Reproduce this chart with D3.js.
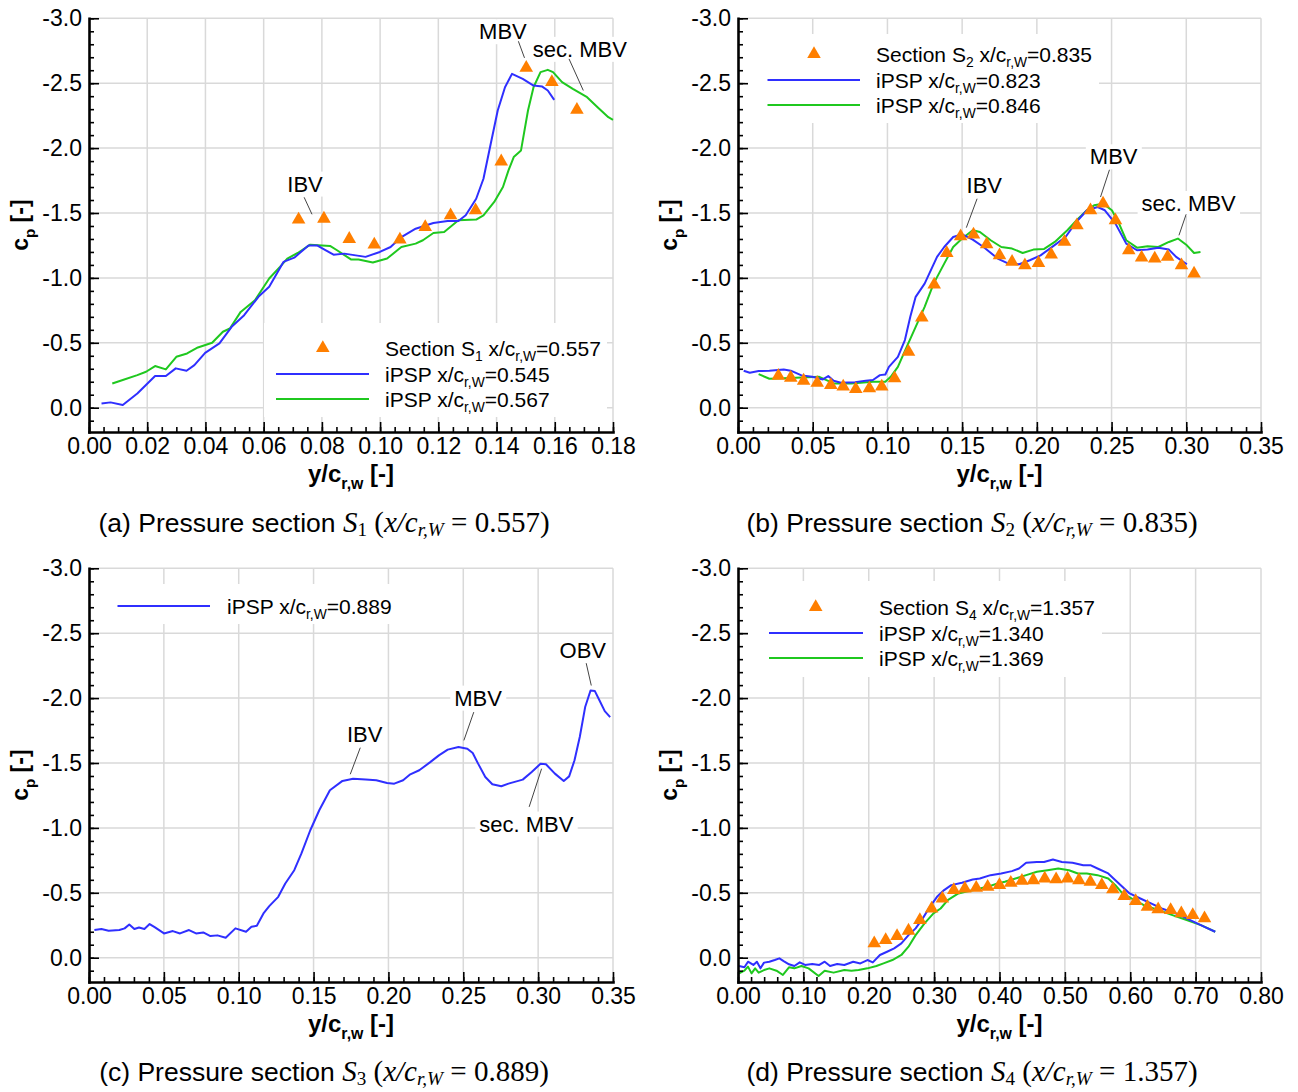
<!DOCTYPE html>
<html>
<head>
<meta charset="utf-8">
<script src="https://cdn.jsdelivr.net/npm/d3@7"></script>
<style>
  html, body { margin: 0; padding: 0; background: #fff; }
  svg { display: block; }
</style>
</head>
<body>
<svg id="fig" width="1298" height="1092"></svg>
<script>
// ---- data: [y/c_rw, cp] pairs ----

// (a) section S1
const s1Exp = [[0.0720,-1.449],[0.0807,-1.456],[0.0894,-1.300],[0.0980,-1.256],[0.1068,-1.295],[0.1155,-1.392],
  [0.1242,-1.482],[0.1328,-1.521],[0.1416,-1.897],[0.1502,-2.618],[0.1590,-2.508],[0.1676,-2.295]];
const s1Psp545 = [[0.0043,-0.033],[0.0074,-0.041],[0.0116,-0.021],[0.0166,-0.110],[0.0227,-0.244],[0.0264,-0.244],
  [0.0298,-0.303],[0.0335,-0.285],[0.0362,-0.328],[0.0399,-0.423],[0.0448,-0.495],[0.0490,-0.623],[0.0533,-0.713],
  [0.0582,-0.854],[0.0619,-0.931],[0.0668,-1.123],[0.0705,-1.156],[0.0754,-1.249],[0.0785,-1.249],[0.0809,-1.218],
  [0.0840,-1.179],[0.0877,-1.187],[0.0950,-1.162],[0.0999,-1.200],[0.1036,-1.238],[0.1073,-1.315],[0.1122,-1.379],
  [0.1183,-1.423],[0.1232,-1.438],[0.1269,-1.438],[0.1294,-1.482],[0.1330,-1.610],[0.1355,-1.764],[0.1380,-2.033],
  [0.1404,-2.290],[0.1429,-2.469],[0.1453,-2.572],[0.1490,-2.533],[0.1527,-2.482],[0.1557,-2.474],[0.1576,-2.444],
  [0.1598,-2.372]];
const s1Psp567 = [[0.0080,-0.187],[0.0116,-0.213],[0.0166,-0.251],[0.0196,-0.277],[0.0227,-0.321],[0.0264,-0.295],
  [0.0300,-0.392],[0.0337,-0.418],[0.0374,-0.464],[0.0423,-0.500],[0.0460,-0.585],[0.0484,-0.610],[0.0521,-0.738],
  [0.0570,-0.828],[0.0619,-0.995],[0.0656,-1.085],[0.0681,-1.149],[0.0717,-1.192],[0.0760,-1.256],[0.0828,-1.246],
  [0.0852,-1.213],[0.0901,-1.141],[0.0926,-1.141],[0.0975,-1.118],[0.1024,-1.149],[0.1073,-1.238],[0.1122,-1.264],
  [0.1147,-1.290],[0.1183,-1.346],[0.1220,-1.354],[0.1269,-1.444],[0.1330,-1.449],[0.1355,-1.482],[0.1392,-1.585],
  [0.1422,-1.700],[0.1441,-1.828],[0.1459,-1.931],[0.1484,-1.982],[0.1508,-2.290],[0.1527,-2.469],[0.1551,-2.585],
  [0.1576,-2.603],[0.1594,-2.585],[0.1625,-2.508],[0.1662,-2.456],[0.1711,-2.392],[0.1747,-2.315],[0.1784,-2.238],
  [0.1800,-2.218]];

// (b) section S2
const s2Exp = [[0.0270,-0.246],[0.0353,-0.231],[0.0439,-0.208],[0.0530,-0.192],[0.0621,-0.174],[0.0704,-0.162],
  [0.0788,-0.144],[0.0879,-0.149],[0.0962,-0.162],[0.1048,-0.226],[0.1141,-0.431],[0.1230,-0.695],[0.1313,-0.949],
  [0.1397,-1.192],[0.1490,-1.321],[0.1576,-1.333],[0.1664,-1.259],[0.1750,-1.174],[0.1834,-1.123],[0.1920,-1.097],
  [0.2011,-1.115],[0.2096,-1.179],[0.2185,-1.277],[0.2268,-1.405],[0.2359,-1.521],[0.2443,-1.572],[0.2526,-1.444],
  [0.2615,-1.213],[0.2701,-1.156],[0.2789,-1.149],[0.2875,-1.162],[0.2968,-1.097],[0.3052,-1.033]];
const s2Psp823 = [[0.0038,-0.285],[0.0079,-0.269],[0.0138,-0.282],[0.0210,-0.285],[0.0306,-0.295],[0.0353,-0.285],
  [0.0425,-0.249],[0.0497,-0.238],[0.0568,-0.218],[0.0604,-0.244],[0.0640,-0.208],[0.0688,-0.192],[0.0783,-0.197],
  [0.0855,-0.208],[0.0903,-0.213],[0.0950,-0.251],[0.0986,-0.256],[0.1010,-0.315],[0.1070,-0.392],[0.1117,-0.521],
  [0.1153,-0.700],[0.1189,-0.854],[0.1249,-0.956],[0.1332,-1.162],[0.1380,-1.238],[0.1440,-1.315],[0.1500,-1.336],
  [0.1571,-1.295],[0.1643,-1.238],[0.1738,-1.149],[0.1810,-1.110],[0.1882,-1.105],[0.1953,-1.136],[0.2025,-1.174],
  [0.2096,-1.233],[0.2192,-1.315],[0.2264,-1.431],[0.2335,-1.521],[0.2407,-1.546],[0.2455,-1.521],[0.2526,-1.418],
  [0.2598,-1.264],[0.2670,-1.213],[0.2741,-1.218],[0.2813,-1.233],[0.2884,-1.218],[0.2932,-1.162],[0.3004,-1.105]];
const s2Psp846 = [[0.0138,-0.259],[0.0210,-0.223],[0.0306,-0.226],[0.0425,-0.233],[0.0544,-0.238],[0.0592,-0.213],
  [0.0640,-0.187],[0.0759,-0.187],[0.0903,-0.200],[0.0986,-0.200],[0.1022,-0.238],[0.1070,-0.315],[0.1129,-0.469],
  [0.1189,-0.623],[0.1249,-0.777],[0.1309,-0.956],[0.1380,-1.110],[0.1440,-1.238],[0.1500,-1.303],[0.1571,-1.367],
  [0.1619,-1.354],[0.1691,-1.290],[0.1762,-1.238],[0.1834,-1.226],[0.1905,-1.192],[0.1977,-1.218],[0.2049,-1.223],
  [0.2120,-1.277],[0.2204,-1.367],[0.2276,-1.456],[0.2335,-1.521],[0.2383,-1.559],[0.2443,-1.572],[0.2502,-1.521],
  [0.2550,-1.418],[0.2598,-1.290],[0.2670,-1.233],[0.2741,-1.244],[0.2813,-1.238],[0.2884,-1.277],[0.2944,-1.303],
  [0.3004,-1.251],[0.3052,-1.192],[0.3095,-1.200]];

// (c) section S3
const s3Psp889 = [[0.0036,-0.213],[0.0083,-0.221],[0.0131,-0.208],[0.0203,-0.213],[0.0238,-0.226],[0.0269,-0.256],
  [0.0303,-0.221],[0.0334,-0.233],[0.0370,-0.221],[0.0405,-0.259],[0.0441,-0.233],[0.0501,-0.187],[0.0560,-0.205],
  [0.0608,-0.187],[0.0668,-0.213],[0.0715,-0.187],[0.0763,-0.195],[0.0811,-0.167],[0.0858,-0.172],[0.0913,-0.154],
  [0.0978,-0.226],[0.1049,-0.200],[0.1085,-0.238],[0.1121,-0.246],[0.1168,-0.346],[0.1204,-0.397],[0.1264,-0.469],
  [0.1311,-0.572],[0.1371,-0.674],[0.1419,-0.803],[0.1478,-0.982],[0.1538,-1.136],[0.1609,-1.290],[0.1693,-1.362],
  [0.1764,-1.379],[0.1848,-1.372],[0.1919,-1.367],[0.1991,-1.346],[0.2039,-1.341],[0.2098,-1.367],[0.2146,-1.413],
  [0.2206,-1.444],[0.2277,-1.505],[0.2337,-1.559],[0.2396,-1.603],[0.2468,-1.623],[0.2527,-1.610],[0.2563,-1.577],
  [0.2599,-1.495],[0.2647,-1.392],[0.2694,-1.336],[0.2754,-1.321],[0.2802,-1.341],[0.2897,-1.372],[0.2957,-1.431],
  [0.3016,-1.495],[0.3052,-1.490],[0.3112,-1.418],[0.3171,-1.362],[0.3207,-1.397],[0.3243,-1.521],[0.3278,-1.700],
  [0.3314,-1.931],[0.3350,-2.059],[0.3379,-2.054],[0.3410,-1.982],[0.3445,-1.900],[0.3481,-1.854]];

// (d) section S4
const s4Exp = [[0.2084,-0.110],[0.2259,-0.136],[0.2433,-0.167],[0.2608,-0.208],[0.2782,-0.290],[0.2962,-0.379],
  [0.3126,-0.456],[0.3301,-0.521],[0.3470,-0.533],[0.3644,-0.538],[0.3819,-0.546],[0.3999,-0.559],[0.4173,-0.577],
  [0.4343,-0.592],[0.4517,-0.597],[0.4692,-0.610],[0.4866,-0.603],[0.5041,-0.610],[0.5215,-0.597],[0.5390,-0.585],
  [0.5565,-0.559],[0.5734,-0.526],[0.5908,-0.474],[0.6083,-0.436],[0.6263,-0.392],[0.6427,-0.372],[0.6618,-0.367],
  [0.6781,-0.341],[0.6956,-0.328],[0.7136,-0.303]];
const s4Psp1340 = [[0.0016,0.064],[0.0098,0.074],[0.0153,0.031],[0.0235,0.056],[0.0289,0.031],[0.0344,0.082],
  [0.0398,0.038],[0.0480,0.031],[0.0562,0.018],[0.0633,0.005],[0.0698,0.026],[0.0780,0.051],[0.0862,0.064],
  [0.0944,0.036],[0.1026,0.056],[0.1135,0.049],[0.1244,0.056],[0.1326,0.031],[0.1408,0.064],[0.1517,0.049],
  [0.1626,0.056],[0.1762,0.031],[0.1871,0.044],[0.1980,0.018],[0.2062,0.036],[0.2171,-0.021],[0.2280,-0.046],
  [0.2389,-0.072],[0.2499,-0.110],[0.2608,-0.174],[0.2717,-0.226],[0.2826,-0.303],[0.2935,-0.392],[0.3044,-0.469],
  [0.3153,-0.521],[0.3262,-0.559],[0.3426,-0.577],[0.3590,-0.603],[0.3699,-0.610],[0.3863,-0.636],[0.4026,-0.649],
  [0.4190,-0.667],[0.4299,-0.687],[0.4408,-0.731],[0.4572,-0.738],[0.4681,-0.738],[0.4817,-0.756],[0.4954,-0.738],
  [0.5117,-0.731],[0.5281,-0.713],[0.5390,-0.713],[0.5499,-0.687],[0.5663,-0.649],[0.5826,-0.572],[0.5990,-0.495],
  [0.6154,-0.456],[0.6317,-0.418],[0.6481,-0.379],[0.6699,-0.341],[0.6918,-0.290],[0.7136,-0.238],[0.7300,-0.200]];
const s4Psp1369 = [[0.0016,0.121],[0.0098,0.100],[0.0153,0.069],[0.0207,0.121],[0.0262,0.082],[0.0316,0.115],
  [0.0398,0.095],[0.0480,0.082],[0.0589,0.100],[0.0687,0.133],[0.0780,0.074],[0.0862,0.082],[0.0971,0.064],
  [0.1080,0.082],[0.1233,0.141],[0.1326,0.100],[0.1462,0.115],[0.1626,0.095],[0.1735,0.100],[0.1844,0.095],
  [0.1980,0.082],[0.2117,0.064],[0.2226,0.044],[0.2362,0.018],[0.2499,-0.021],[0.2608,-0.085],[0.2717,-0.174],
  [0.2853,-0.264],[0.2990,-0.341],[0.3099,-0.379],[0.3208,-0.444],[0.3371,-0.495],[0.3481,-0.508],[0.3644,-0.526],
  [0.3808,-0.546],[0.3972,-0.572],[0.4081,-0.585],[0.4244,-0.610],[0.4408,-0.636],[0.4572,-0.662],[0.4735,-0.674],
  [0.4899,-0.687],[0.5063,-0.674],[0.5199,-0.649],[0.5335,-0.649],[0.5499,-0.636],[0.5663,-0.610],[0.5772,-0.559],
  [0.5881,-0.495],[0.6045,-0.449],[0.6208,-0.405],[0.6427,-0.367],[0.6645,-0.328],[0.6863,-0.290],[0.7081,-0.251],
  [0.7300,-0.200]];

// axis ticks
const yMajor = [-3.0, -2.5, -2.0, -1.5, -1.0, -0.5, 0.0];
const xMajorA = [0, 0.02, 0.04, 0.06, 0.08, 0.10, 0.12, 0.14, 0.16, 0.18];
const xMajorBC = [0, 0.05, 0.10, 0.15, 0.20, 0.25, 0.30, 0.35];
const xMajorD = [0, 0.1, 0.2, 0.3, 0.4, 0.5, 0.6, 0.7, 0.8];

// annotation labels: text, text position, leader start, leader end
const notesA = [
  { t: "IBV", at: [0.0742, -1.726], from: [0.0739, -1.621], to: [0.0766, -1.49] },
  { t: "MBV", at: [0.1422, -2.90], from: [0.1475, -2.823], to: [0.1496, -2.695] },
  { t: "sec. MBV", at: [0.1686, -2.764], from: [0.1649, -2.687], to: [0.1698, -2.444] }
];
const notesB = [
  { t: "IBV", at: [0.1648, -1.713], from: [0.1600, -1.610], to: [0.1528, -1.387] },
  { t: "MBV", at: [0.2514, -1.936], from: [0.2486, -1.833], to: [0.2426, -1.623] },
  { t: "sec. MBV", at: [0.3016, -1.577], from: [0.2999, -1.490], to: [0.2951, -1.328] }
];
const notesC = [
  { t: "IBV", at: [0.1841, -1.721], from: [0.1812, -1.618], to: [0.1745, -1.413] },
  { t: "MBV", at: [0.2599, -2.003], from: [0.2570, -1.892], to: [0.2504, -1.674] },
  { t: "sec. MBV", at: [0.2921, -1.033], from: [0.2940, -1.162], to: [0.3023, -1.456] },
  { t: "OBV", at: [0.3298, -2.372], from: [0.3321, -2.269], to: [0.3355, -2.097] }
];

const SANS = "'Liberation Sans', Arial, Helvetica, sans-serif";
const SERIF = "'Liberation Serif', 'Times New Roman', serif";
const BLUE = "#2f2fff", GREEN = "#1fc81f", ORANGE = "#ff7f00", GRID = "#d9d9d9";

const svg = d3.select("#fig");

// append text made of parts, some of them subscripts
function rich(text, parts, size, drop = 0.3) {
  let shift = 0;
  parts.forEach(p => {
    const fs = p.size || size;
    const ts = text.append("tspan").text(p.t);
    const target = p.sub ? size * drop : 0;
    if (target !== shift) ts.attr("dy", target - shift);
    shift = target;
    if (p.sub) ts.attr("font-size", fs * 0.66);
    else if (p.size) ts.attr("font-size", fs);
    if (p.serif) ts.attr("font-family", SERIF);
    if (p.it) ts.attr("font-style", "italic");
  });
  return text;
}

const panels = [
  { left: 89, right: 613, top: 18.3, xMax: 0.18, xMajor: xMajorA, xMinorStep: 0.005, xFmt: d3.format(".2f"),
    exp: s1Exp, blue: s1Psp545, green: s1Psp567, notes: notesA,
    legend: { x0: 264, y0: 323, x1: 607, y1: 417, rows: [348, 374, 399], mark: 322.8, l0: 276, l1: 369, tx: 385,
      labels: [["Section S", "1", "0.557"], ["iPSP", null, "0.545"], ["iPSP", null, "0.567"]] },
    cap: { cx: 324, y: 532, tag: "(a)", s: "1", val: "0.557" } },
  { left: 738, right: 1261, top: 18.3, xMax: 0.35, xMajor: xMajorBC, xMinorStep: 0.01, xFmt: d3.format(".2f"),
    exp: s2Exp, blue: s2Psp823, green: s2Psp846, notes: notesB,
    legend: { x0: 745, y0: 34, x1: 1099, y1: 123, rows: [54, 80, 105], mark: 814, l0: 767.5, l1: 860, tx: 876,
      labels: [["Section S", "2", "0.835"], ["iPSP", null, "0.823"], ["iPSP", null, "0.846"]] },
    cap: { cx: 972, y: 532, tag: "(b)", s: "2", val: "0.835" } },
  { left: 89, right: 613, top: 568.3, xMax: 0.35, xMajor: xMajorBC, xMinorStep: 0.01, xFmt: d3.format(".2f"),
    exp: null, blue: s3Psp889, green: null, notes: notesC,
    legend: { x0: 96, y0: 584, x1: 400, y1: 624, rows: [606], mark: null, l0: 117.5, l1: 210, tx: 227,
      labels: [["iPSP", null, "0.889"]] },
    cap: { cx: 324, y: 1081, tag: "(c)", s: "3", val: "0.889" } },
  { left: 738, right: 1261, top: 568.3, xMax: 0.80, xMajor: xMajorD, xMinorStep: 0.02, xFmt: d3.format(".2f"),
    exp: s4Exp, blue: s4Psp1340, green: s4Psp1369, notes: [],
    legend: { x0: 748, y0: 581, x1: 1102, y1: 677, rows: [607, 633, 658], mark: 815.7, l0: 769, l1: 863, tx: 879,
      labels: [["Section S", "4", "1.357"], ["iPSP", null, "1.340"], ["iPSP", null, "1.369"]] },
    cap: { cx: 972, y: 1081, tag: "(d)", s: "4", val: "1.357" } }
];

panels.forEach(drawPanel);

function drawPanel(p) {
  const g = svg.append("g");
  const zeroY = p.top + 389.4;
  const yMax = 0.187;
  const bottom = zeroY + yMax * 129.8;
  const x = d3.scaleLinear().domain([0, p.xMax]).range([p.left, p.right]);
  const y = d3.scaleLinear().domain([-3, yMax]).range([p.top, bottom]);

  // grid
  g.append("g").selectAll("line").data(p.xMajor.slice(1)).join("line")
    .attr("x1", d => x(d)).attr("x2", d => x(d)).attr("y1", p.top).attr("y2", bottom)
    .attr("stroke", GRID).attr("stroke-width", 1.5);
  g.append("g").selectAll("line").data(yMajor).join("line")
    .attr("x1", p.left).attr("x2", p.right).attr("y1", d => y(d)).attr("y2", d => y(d))
    .attr("stroke", GRID).attr("stroke-width", 1.5);

  // legend box
  const L = p.legend;
  g.append("rect").attr("x", L.x0).attr("y", L.y0).attr("width", L.x1 - L.x0).attr("height", L.y1 - L.y0)
    .attr("fill", "#fff");

  // annotation text with white backing
  const noteG = g.append("g");
  p.notes.forEach(n => {
    const t = noteG.append("text").attr("x", x(n.at[0])).attr("y", y(n.at[1])).attr("dy", "0.36em")
      .attr("text-anchor", "middle").attr("font-family", SANS).attr("font-size", 22).text(n.t);
    const bb = t.node().getBBox();
    noteG.insert("rect", "text").attr("x", bb.x - 4).attr("y", bb.y).attr("width", bb.width + 8)
      .attr("height", bb.height).attr("fill", "#fff");
    noteG.append("line").attr("x1", x(n.from[0])).attr("y1", y(n.from[1]))
      .attr("x2", x(n.to[0])).attr("y2", y(n.to[1])).attr("stroke", "#444").attr("stroke-width", 1);
  });

  const line = d3.line().x(d => x(d[0])).y(d => y(d[1]));
  const tri = d3.symbol().type(d3.symbolTriangle).size(80);

  if (p.green) g.append("path").datum(p.green).attr("d", line).attr("fill", "none")
    .attr("stroke", GREEN).attr("stroke-width", 2).attr("stroke-linejoin", "round");
  if (p.blue) g.append("path").datum(p.blue).attr("d", line).attr("fill", "none")
    .attr("stroke", BLUE).attr("stroke-width", 2).attr("stroke-linejoin", "round");
  if (p.exp) g.append("g").selectAll("path").data(p.exp).join("path")
    .attr("d", tri).attr("fill", ORANGE)
    .attr("transform", d => `translate(${x(d[0])},${y(d[1])})`);

  // axes
  const ax = g.append("g").attr("transform", `translate(0,${bottom})`)
    .call(d3.axisBottom(x).tickValues(p.xMajor).tickFormat(p.xFmt).tickSize(-10).tickSizeOuter(0).tickPadding(6));
  const xMinor = d3.range(0, p.xMax + 1e-9, p.xMinorStep);
  g.append("g").attr("transform", `translate(0,${bottom})`)
    .call(d3.axisBottom(x).tickValues(xMinor).tickFormat("").tickSize(-5).tickSizeOuter(0))
    .call(s => s.select(".domain").remove());
  const ay = g.append("g").attr("transform", `translate(${p.left},0)`)
    .call(d3.axisLeft(y).tickValues(yMajor).tickFormat(d => d.toFixed(1)).tickSize(-10).tickSizeOuter(0).tickPadding(7));
  const yMinor = d3.range(-30, 2).map(v => v / 10);
  g.append("g").attr("transform", `translate(${p.left},0)`)
    .call(d3.axisLeft(y).tickValues(yMinor).tickFormat("").tickSize(-5).tickSizeOuter(0))
    .call(s => s.select(".domain").remove());

  g.selectAll(".domain").attr("stroke", "#000").attr("stroke-width", 2.6).attr("stroke-linecap", "square");
  g.selectAll(".tick line").attr("stroke", "#000").attr("stroke-width", 1.6);
  [ax, ay].forEach(a => a.selectAll("text").attr("font-family", SANS).attr("font-size", 23).attr("fill", "#000"));

  // axis titles
  rich(g.append("text").attr("x", (p.left + p.right) / 2).attr("y", bottom + 50)
      .attr("text-anchor", "middle").attr("font-family", SANS).attr("font-weight", "bold").attr("font-size", 24),
    [{ t: "y/c" }, { t: "r,w", sub: true }, { t: " [-]" }], 24);
  const midY = (p.top + bottom) / 2;
  rich(g.append("text").attr("transform", `translate(${p.left - 61},${midY}) rotate(-90)`)
      .attr("text-anchor", "middle").attr("font-family", SANS).attr("font-weight", "bold").attr("font-size", 23),
    [{ t: "c" }, { t: "p", sub: true }, { t: " [-]" }], 23);

  // legend entries
  L.labels.forEach((lab, i) => {
    const ry = L.rows[i];
    const isExp = lab[1] !== null;
    if (isExp) {
      g.append("path").attr("d", tri).attr("fill", ORANGE).attr("transform", `translate(${L.mark},${ry})`);
    } else {
      const col = (p.exp ? i === 1 : i === 0) ? BLUE : GREEN;
      g.append("line").attr("x1", L.l0).attr("x2", L.l1).attr("y1", ry).attr("y2", ry)
        .attr("stroke", col).attr("stroke-width", 2);
    }
    const parts = isExp
      ? [{ t: lab[0] }, { t: lab[1], sub: true }, { t: " x/c" }, { t: "r,W", sub: true }, { t: "=" + lab[2] }]
      : [{ t: "iPSP x/c" }, { t: "r,W", sub: true }, { t: "=" + lab[2] }];
    rich(g.append("text").attr("x", L.tx).attr("y", ry + 7.5).attr("font-family", SANS).attr("font-size", 21), parts, 21, 0.26);
  });

  // caption
  const C = p.cap;
  const M = 29;
  rich(g.append("text").attr("x", C.cx).attr("y", C.y).attr("text-anchor", "middle")
      .attr("font-family", SANS).attr("font-size", 26.5),
    [{ t: C.tag + " Pressure section " }, { t: "S", serif: true, it: true, size: M }, { t: C.s, sub: true, serif: true, size: M },
     { t: " (", serif: true, size: M }, { t: "x/c", serif: true, it: true, size: M },
     { t: "r,W", sub: true, serif: true, it: true, size: M },
     { t: " = " + C.val + ")", serif: true, size: M }], 26.5, 0.16);
}
</script>
</body>
</html>
